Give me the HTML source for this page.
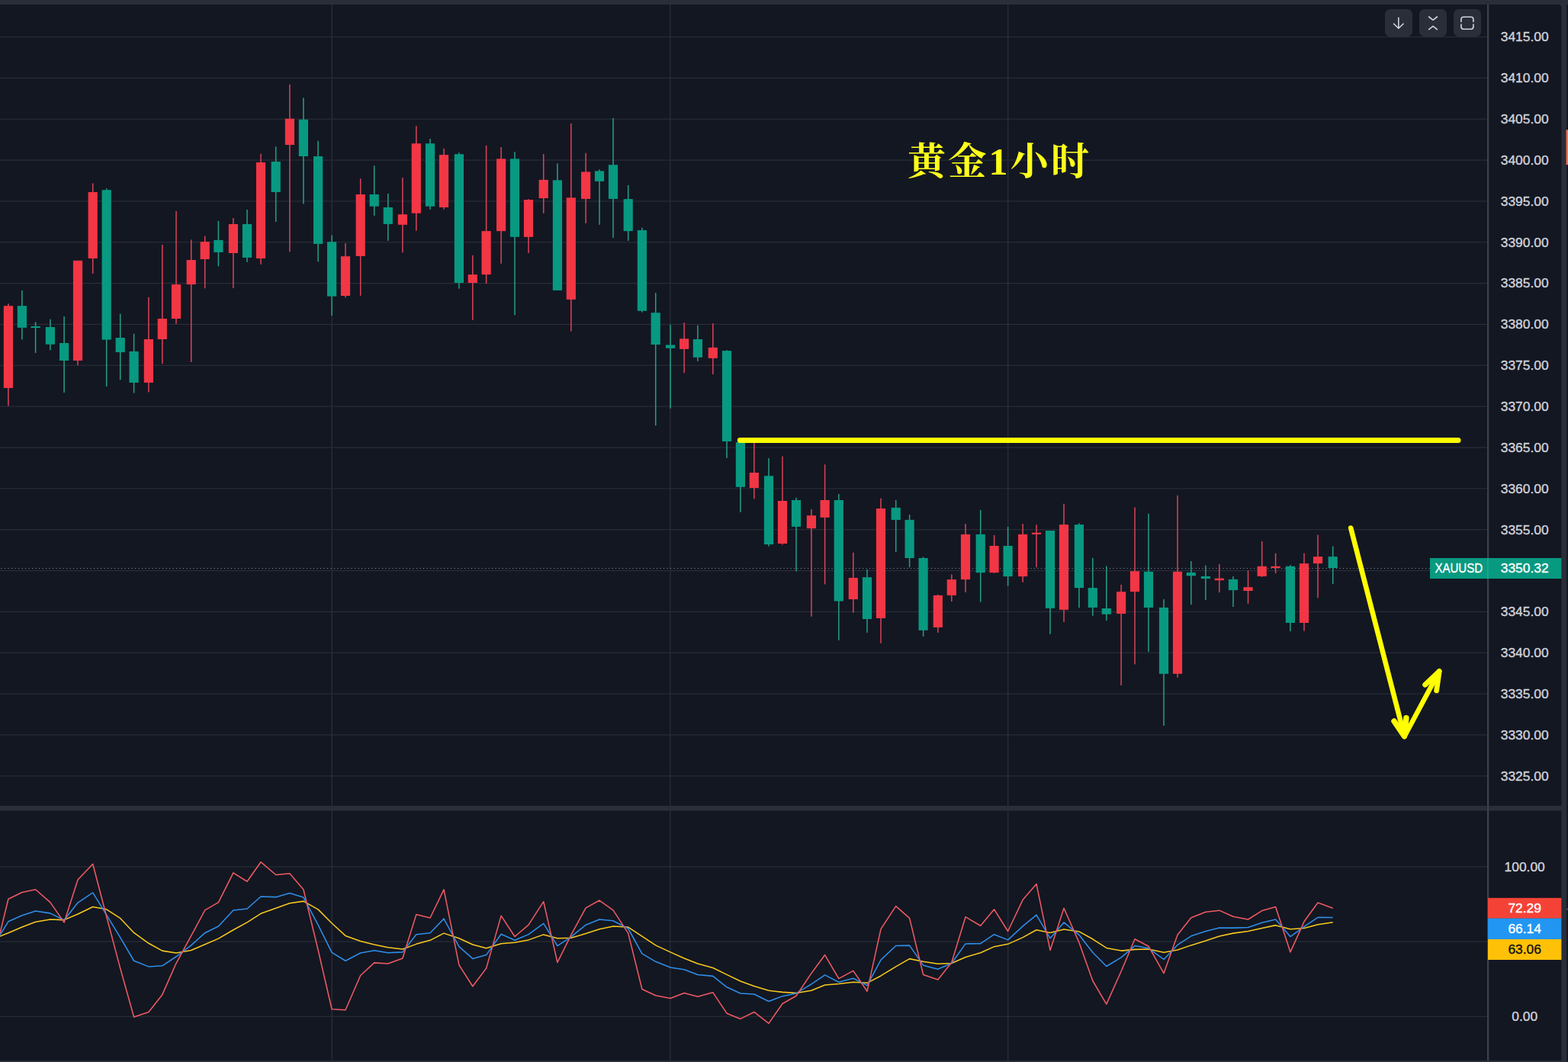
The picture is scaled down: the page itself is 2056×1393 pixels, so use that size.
<!DOCTYPE html>
<html><head><meta charset="utf-8"><title>XAUUSD 1h</title>
<style>
html,body{margin:0;padding:0;background:#131722;width:2056px;height:1393px;overflow:hidden;font-family:"Liberation Sans",sans-serif}
svg{display:block;position:absolute;left:0;top:0}
</style></head><body>
<svg width="2056" height="1393" viewBox="0 0 2056 1393" shape-rendering="geometricPrecision"><rect x="0" y="0" width="2056" height="1393" fill="#131722"/>
<g fill="#292d38"><rect x="0" y="47.9" width="1950" height="1.2"/><rect x="0" y="101.75" width="1950" height="1.2"/><rect x="0" y="155.6" width="1950" height="1.2"/><rect x="0" y="209.45" width="1950" height="1.2"/><rect x="0" y="263.3" width="1950" height="1.2"/><rect x="0" y="317.15" width="1950" height="1.2"/><rect x="0" y="371" width="1950" height="1.2"/><rect x="0" y="424.85" width="1950" height="1.2"/><rect x="0" y="478.7" width="1950" height="1.2"/><rect x="0" y="532.55" width="1950" height="1.2"/><rect x="0" y="586.4" width="1950" height="1.2"/><rect x="0" y="640.25" width="1950" height="1.2"/><rect x="0" y="694.1" width="1950" height="1.2"/><rect x="0" y="747.95" width="1950" height="1.2"/><rect x="0" y="801.8" width="1950" height="1.2"/><rect x="0" y="855.65" width="1950" height="1.2"/><rect x="0" y="909.5" width="1950" height="1.2"/><rect x="0" y="963.35" width="1950" height="1.2"/><rect x="0" y="1017.2" width="1950" height="1.2"/><rect x="0" y="1136.4" width="1950" height="1.2"/><rect x="0" y="1234.4" width="1950" height="1.2"/><rect x="0" y="1332.7" width="1950" height="1.2"/><rect x="434.5" y="6" width="1.4" height="1051"/><rect x="434.5" y="1063" width="1.4" height="328"/><rect x="878.1" y="6" width="1.4" height="1051"/><rect x="878.1" y="1063" width="1.4" height="328"/><rect x="1321" y="6" width="1.4" height="1051"/><rect x="1321" y="1063" width="1.4" height="328"/></g>
<line x1="1.5" y1="745.5" x2="1875" y2="745.5" stroke="#7f8c8f" stroke-width="1" stroke-dasharray="1.1 3.4"/>
<g fill="#f23645"><rect x="10.15" y="398.3" width="1.5" height="134.2" fill="#dc4258"/><rect x="4.8" y="401.2" width="12.2" height="107.7"/><rect x="101.25" y="341.8" width="1.5" height="137.5" fill="#dc4258"/><rect x="95.9" y="341.8" width="12.2" height="131.2"/><rect x="120.95" y="240.4" width="1.5" height="118.5" fill="#dc4258"/><rect x="115.6" y="252" width="12.2" height="87"/><rect x="194.15" y="389.8" width="1.5" height="124.6" fill="#dc4258"/><rect x="188.8" y="445" width="12.2" height="56.9"/><rect x="212.05" y="321" width="1.5" height="156.1" fill="#dc4258"/><rect x="206.7" y="418" width="12.2" height="27"/><rect x="230.25" y="276.8" width="1.5" height="148" fill="#dc4258"/><rect x="224.9" y="373.1" width="12.2" height="44.9"/><rect x="249.95" y="314.4" width="1.5" height="160.6" fill="#dc4258"/><rect x="244.6" y="341" width="12.2" height="32.1"/><rect x="267.95" y="309.6" width="1.5" height="68.6" fill="#dc4258"/><rect x="262.6" y="317" width="12.2" height="23"/><rect x="305.15" y="286" width="1.5" height="92" fill="#dc4258"/><rect x="299.8" y="294" width="12.2" height="38"/><rect x="341.25" y="201.7" width="1.5" height="145.1" fill="#dc4258"/><rect x="335.9" y="213" width="12.2" height="126"/><rect x="379.15" y="110.8" width="1.5" height="219.4" fill="#dc4258"/><rect x="373.8" y="155.7" width="12.2" height="34.3"/><rect x="452.25" y="319.1" width="1.5" height="71.2" fill="#dc4258"/><rect x="446.9" y="336.2" width="12.2" height="51.8"/><rect x="471.95" y="234.2" width="1.5" height="153.7" fill="#dc4258"/><rect x="466.6" y="255" width="12.2" height="81"/><rect x="527.15" y="233.1" width="1.5" height="98.1" fill="#dc4258"/><rect x="521.8" y="281.2" width="12.2" height="13.6"/><rect x="545.05" y="165.2" width="1.5" height="137.5" fill="#dc4258"/><rect x="539.7" y="188.2" width="12.2" height="91.5"/><rect x="581.25" y="194.7" width="1.5" height="80" fill="#dc4258"/><rect x="575.9" y="203.1" width="12.2" height="68.9"/><rect x="619.05" y="334.9" width="1.5" height="84.9" fill="#dc4258"/><rect x="613.7" y="360.1" width="12.2" height="10.9"/><rect x="636.85" y="190.8" width="1.5" height="181.3" fill="#dc4258"/><rect x="631.5" y="303.1" width="12.2" height="57"/><rect x="656.35" y="193" width="1.5" height="152.8" fill="#dc4258"/><rect x="651" y="208.3" width="12.2" height="94.8"/><rect x="692.25" y="261.1" width="1.5" height="70.9" fill="#dc4258"/><rect x="686.9" y="262" width="12.2" height="48.8"/><rect x="711.95" y="202" width="1.5" height="77.7" fill="#dc4258"/><rect x="706.6" y="235.9" width="12.2" height="24.1"/><rect x="748.05" y="161.9" width="1.5" height="272.6" fill="#dc4258"/><rect x="742.7" y="259.3" width="12.2" height="133.6"/><rect x="767.35" y="200.7" width="1.5" height="92.1" fill="#dc4258"/><rect x="762" y="225.4" width="12.2" height="35.5"/><rect x="896.35" y="423.1" width="1.5" height="66.1" fill="#dc4258"/><rect x="891" y="444.3" width="12.2" height="13.6"/><rect x="934.05" y="424.2" width="1.5" height="66.7" fill="#dc4258"/><rect x="928.7" y="455.9" width="12.2" height="14"/><rect x="988.05" y="578" width="1.5" height="76.4" fill="#dc4258"/><rect x="982.7" y="620" width="12.2" height="20"/><rect x="1025.25" y="598.6" width="1.5" height="115.9" fill="#dc4258"/><rect x="1019.9" y="657" width="12.2" height="56"/><rect x="1063.15" y="667.9" width="1.5" height="140.8" fill="#dc4258"/><rect x="1057.8" y="676.2" width="12.2" height="16.9"/><rect x="1080.85" y="609.3" width="1.5" height="157.1" fill="#dc4258"/><rect x="1075.5" y="656" width="12.2" height="22.8"/><rect x="1118.05" y="724.8" width="1.5" height="79.1" fill="#dc4258"/><rect x="1112.7" y="757.9" width="12.2" height="28.2"/><rect x="1154.25" y="653.7" width="1.5" height="190" fill="#dc4258"/><rect x="1148.9" y="667" width="12.2" height="143.9"/><rect x="1229.05" y="779.8" width="1.5" height="50.1" fill="#dc4258"/><rect x="1223.7" y="780.9" width="12.2" height="42"/><rect x="1247.05" y="753.5" width="1.5" height="35.5" fill="#dc4258"/><rect x="1241.7" y="760.1" width="12.2" height="20.8"/><rect x="1265.25" y="687.1" width="1.5" height="89.8" fill="#dc4258"/><rect x="1259.9" y="700.9" width="12.2" height="59.2"/><rect x="1302.85" y="702" width="1.5" height="49.7" fill="#dc4258"/><rect x="1297.5" y="716" width="12.2" height="35.1"/><rect x="1340.35" y="687.1" width="1.5" height="76.7" fill="#dc4258"/><rect x="1335" y="700.9" width="12.2" height="55.2"/><rect x="1358.25" y="688.2" width="1.5" height="55.9" fill="#dc4258"/><rect x="1352.9" y="698.7" width="12.2" height="2.2"/><rect x="1394.25" y="660.8" width="1.5" height="155" fill="#dc4258"/><rect x="1388.9" y="688.1" width="12.2" height="111.7"/><rect x="1469.35" y="766.9" width="1.5" height="132.1" fill="#dc4258"/><rect x="1464" y="776.1" width="12.2" height="28.9"/><rect x="1487.25" y="665.5" width="1.5" height="205.8" fill="#dc4258"/><rect x="1481.9" y="749.2" width="12.2" height="26.9"/><rect x="1543.25" y="649.8" width="1.5" height="238.9" fill="#dc4258"/><rect x="1537.9" y="749.8" width="12.2" height="134"/><rect x="1598.05" y="740" width="1.5" height="37.2" fill="#dc4258"/><rect x="1592.7" y="758.6" width="12.2" height="2.6"/><rect x="1635.75" y="748.3" width="1.5" height="43.6" fill="#dc4258"/><rect x="1630.4" y="770.2" width="12.2" height="4.8"/><rect x="1653.95" y="710" width="1.5" height="46.8" fill="#dc4258"/><rect x="1648.6" y="742.8" width="12.2" height="13.1"/><rect x="1671.85" y="725.7" width="1.5" height="26.3" fill="#dc4258"/><rect x="1666.5" y="742.8" width="12.2" height="2.2"/><rect x="1709.25" y="725.7" width="1.5" height="101.9" fill="#dc4258"/><rect x="1703.9" y="739.1" width="12.2" height="77.9"/><rect x="1727.25" y="701.6" width="1.5" height="82.6" fill="#dc4258"/><rect x="1721.9" y="730.1" width="12.2" height="9"/></g>
<g fill="#089981"><rect x="28.15" y="381" width="1.5" height="64.4" fill="#259e88"/><rect x="22.8" y="401.2" width="12.2" height="28.6"/><rect x="45.85" y="422.4" width="1.5" height="40.5" fill="#259e88"/><rect x="40.5" y="428" width="12.2" height="2"/><rect x="65.15" y="418.7" width="1.5" height="40.5" fill="#259e88"/><rect x="59.8" y="429" width="12.2" height="22.7"/><rect x="83.35" y="415" width="1.5" height="100" fill="#259e88"/><rect x="78" y="450" width="12.2" height="23"/><rect x="138.95" y="247.2" width="1.5" height="259.7" fill="#259e88"/><rect x="133.6" y="249.2" width="12.2" height="196.4"/><rect x="156.95" y="411.7" width="1.5" height="86.5" fill="#259e88"/><rect x="151.6" y="443" width="12.2" height="19"/><rect x="174.85" y="437.7" width="1.5" height="77.8" fill="#259e88"/><rect x="169.5" y="460.9" width="12.2" height="41"/><rect x="285.65" y="289.9" width="1.5" height="59.5" fill="#259e88"/><rect x="280.3" y="314.9" width="12.2" height="16"/><rect x="323.25" y="275" width="1.5" height="68.8" fill="#259e88"/><rect x="317.9" y="294" width="12.2" height="43.9"/><rect x="360.95" y="192.3" width="1.5" height="98.7" fill="#259e88"/><rect x="355.6" y="212" width="12.2" height="40"/><rect x="397.15" y="128.3" width="1.5" height="139.1" fill="#259e88"/><rect x="391.8" y="156.8" width="12.2" height="48.2"/><rect x="416.35" y="184.8" width="1.5" height="158.5" fill="#259e88"/><rect x="411" y="205" width="12.2" height="114.9"/><rect x="434.35" y="308.6" width="1.5" height="105.4" fill="#259e88"/><rect x="429" y="317.2" width="12.2" height="71.5"/><rect x="489.95" y="217.3" width="1.5" height="65.5" fill="#259e88"/><rect x="484.6" y="255" width="12.2" height="15.7"/><rect x="508.05" y="253.9" width="1.5" height="61.9" fill="#259e88"/><rect x="502.7" y="272" width="12.2" height="21.9"/><rect x="563.25" y="182" width="1.5" height="92.7" fill="#259e88"/><rect x="557.9" y="188.2" width="12.2" height="82.5"/><rect x="601.15" y="200.2" width="1.5" height="178.5" fill="#259e88"/><rect x="595.8" y="202.2" width="12.2" height="168.8"/><rect x="674.25" y="199.1" width="1.5" height="214.2" fill="#259e88"/><rect x="668.9" y="208.3" width="12.2" height="102.5"/><rect x="730.15" y="214.4" width="1.5" height="166.5" fill="#259e88"/><rect x="724.8" y="236.3" width="12.2" height="144.6"/><rect x="785.25" y="222.3" width="1.5" height="72.5" fill="#259e88"/><rect x="779.9" y="224.3" width="12.2" height="13.6"/><rect x="803.25" y="154.9" width="1.5" height="157" fill="#259e88"/><rect x="797.9" y="216.2" width="12.2" height="44.7"/><rect x="822.95" y="242.9" width="1.5" height="72.9" fill="#259e88"/><rect x="817.6" y="261.1" width="12.2" height="42"/><rect x="841.15" y="298.7" width="1.5" height="110.9" fill="#259e88"/><rect x="835.8" y="302" width="12.2" height="105.8"/><rect x="858.95" y="384.1" width="1.5" height="174.1" fill="#259e88"/><rect x="853.6" y="410.2" width="12.2" height="41.8"/><rect x="878.25" y="425.7" width="1.5" height="110.1" fill="#259e88"/><rect x="872.9" y="452.4" width="12.2" height="4.4"/><rect x="914.15" y="426.8" width="1.5" height="47.1" fill="#259e88"/><rect x="908.8" y="445" width="12.2" height="23.8"/><rect x="952.25" y="459.2" width="1.5" height="141.6" fill="#259e88"/><rect x="946.9" y="460.1" width="12.2" height="118.9"/><rect x="970.15" y="577" width="1.5" height="94.8" fill="#259e88"/><rect x="964.8" y="580.1" width="12.2" height="58.7"/><rect x="1007.25" y="601" width="1.5" height="115.7" fill="#259e88"/><rect x="1001.9" y="624.2" width="12.2" height="89.9"/><rect x="1043.25" y="652.8" width="1.5" height="96.7" fill="#259e88"/><rect x="1037.9" y="656" width="12.2" height="34.9"/><rect x="1099.05" y="648" width="1.5" height="191.8" fill="#259e88"/><rect x="1093.7" y="656" width="12.2" height="132.5"/><rect x="1136.25" y="746.9" width="1.5" height="83" fill="#259e88"/><rect x="1130.9" y="757.2" width="12.2" height="54.8"/><rect x="1173.95" y="656" width="1.5" height="67.9" fill="#259e88"/><rect x="1168.6" y="665.9" width="12.2" height="16"/><rect x="1191.85" y="675.1" width="1.5" height="69" fill="#259e88"/><rect x="1186.5" y="681.9" width="12.2" height="50.1"/><rect x="1209.85" y="730.5" width="1.5" height="104.4" fill="#259e88"/><rect x="1204.5" y="732" width="12.2" height="94.8"/><rect x="1284.95" y="669" width="1.5" height="120.6" fill="#259e88"/><rect x="1279.6" y="700.9" width="12.2" height="50.2"/><rect x="1320.85" y="690.9" width="1.5" height="77.7" fill="#259e88"/><rect x="1315.5" y="716" width="12.2" height="40.1"/><rect x="1376.25" y="696" width="1.5" height="135.8" fill="#259e88"/><rect x="1370.9" y="696" width="12.2" height="101.8"/><rect x="1414.15" y="686.3" width="1.5" height="111" fill="#259e88"/><rect x="1408.8" y="688.1" width="12.2" height="83"/><rect x="1432.05" y="731.9" width="1.5" height="75.9" fill="#259e88"/><rect x="1426.7" y="771.1" width="12.2" height="25.8"/><rect x="1450.05" y="742.6" width="1.5" height="71.4" fill="#259e88"/><rect x="1444.7" y="798" width="12.2" height="7.7"/><rect x="1505.25" y="673.8" width="1.5" height="181.1" fill="#259e88"/><rect x="1499.9" y="749.8" width="12.2" height="47.1"/><rect x="1525.25" y="785.9" width="1.5" height="166" fill="#259e88"/><rect x="1519.9" y="796.9" width="12.2" height="86.9"/><rect x="1561.05" y="736" width="1.5" height="57.2" fill="#259e88"/><rect x="1555.7" y="750.9" width="12.2" height="4.4"/><rect x="1580.15" y="741.7" width="1.5" height="45.3" fill="#259e88"/><rect x="1574.8" y="755.9" width="12.2" height="3.1"/><rect x="1616.25" y="755.9" width="1.5" height="40.1" fill="#259e88"/><rect x="1610.9" y="759.9" width="12.2" height="14.2"/><rect x="1691.15" y="741.1" width="1.5" height="86.9" fill="#259e88"/><rect x="1685.8" y="742.8" width="12.2" height="74.2"/><rect x="1746.95" y="716.5" width="1.5" height="49.7" fill="#259e88"/><rect x="1741.6" y="730.1" width="12.2" height="14.9"/></g>
<g stroke="#ffff00" fill="none" stroke-linecap="round" stroke-linejoin="round"><line x1="970.3" y1="577.4" x2="1912" y2="577.4" stroke-width="7"/><path d="M1771.2 692.5 L1841.5 965.5" stroke-width="6.6"/><path d="M1828 946 L1841.4 965.8 L1843.9 941.8" stroke-width="7.4"/><path d="M1841.5 966 L1887.2 880.6" stroke-width="6.4"/><path d="M1868.6 898.2 L1887.2 880.4 L1883.6 905.8" stroke-width="6.8"/></g>
<polyline points="0,1228.07 10.9,1223.69 28.9,1216.03 46.6,1209.25 65.9,1205.97 84.1,1206.62 102,1198.96 121.7,1189.55 139.7,1192.83 157.7,1204.43 175.6,1223.47 194.9,1237.26 212.8,1247.11 231,1249.96 250.7,1246.46 268.7,1238.8 286.4,1231.13 305.9,1219.75 324,1209.9 342,1198.3 361.7,1191.3 379.9,1184.74 397.9,1182.11 417.1,1192.83 435.1,1211 453,1227.41 472.7,1234.42 490.7,1239.01 508.8,1242.73 527.9,1244.92 545.8,1238.36 564,1233.32 582,1224.13 601.9,1230.7 619.8,1239.01 637.6,1243.83 657.1,1237.7 675,1236.17 693,1232.89 712.7,1225.88 730.9,1230.7 748.8,1230.26 768.1,1224.57 786,1218.66 804,1214.94 823.7,1216.03 841.9,1228.07 859.7,1239.89 879,1248.86 897.1,1256.96 914.9,1263.96 934.8,1269.44 953,1278.41 970.9,1286.95 988.8,1293.51 1008,1299.2 1026,1301.39 1044,1302.49 1063.9,1299.2 1081.6,1291.98 1099.8,1290.45 1118.8,1288.26 1137,1289.35 1155,1279.94 1174.7,1267.9 1192.6,1257.62 1210.6,1261.34 1229.8,1264.18 1247.8,1263.53 1266,1255.43 1285.7,1249.74 1303.6,1241.64 1321.6,1238.36 1341.1,1229.6 1359,1219.75 1377,1223.47 1395,1219.1 1414.9,1221.94 1432.8,1231.79 1450.8,1243.39 1470.1,1247.11 1488,1245.36 1506,1244.92 1526,1249.3 1544,1246.02 1561.8,1239.89 1580.9,1233.98 1598.8,1228.07 1617,1224.13 1636.5,1221.5 1654.7,1217.57 1672.6,1213.63 1691.9,1218.66 1710,1217.57 1728,1212.75 1747.7,1209.69" fill="none" stroke="#f7c81e" stroke-width="1.55" stroke-linejoin="round"/>
<polyline points="0,1226.32 10.9,1208.81 28.9,1200.71 46.6,1195.02 65.9,1197.87 84.1,1207.06 102,1184.08 121.7,1170.95 139.7,1200.06 157.7,1229.6 175.6,1260.24 194.9,1267.9 212.8,1266.81 231,1254.77 250.7,1239.89 268.7,1223.69 286.4,1214.94 305.9,1193.93 324,1191.96 342,1175.98 361.7,1176.64 379.9,1171.6 397.9,1177.07 417.1,1213.19 435.1,1249.3 453,1260.24 472.7,1249.96 490.7,1246.67 508.8,1249.74 527.9,1248.86 545.8,1225.66 564,1223.69 582,1205.09 601.9,1241.64 619.8,1257.4 637.6,1252.58 657.1,1225.23 675,1233.32 693,1225.66 712.7,1211.44 730.9,1240.55 748.8,1228.95 768.1,1213.19 786,1205.97 804,1207.72 823.7,1218 841.9,1250.83 859.7,1261.34 879,1269 897.1,1271.84 914.9,1278.41 934.8,1280.38 953,1294.82 970.9,1302.92 988.8,1304.02 1008,1313.43 1026,1306.64 1044,1302.92 1063.9,1290.89 1081.6,1278.85 1099.8,1288.26 1118.8,1283.22 1137,1292.64 1155,1259.15 1174.7,1240.55 1192.6,1240.11 1210.6,1266.15 1229.8,1271.19 1247.8,1263.53 1266,1237.92 1285.7,1237.7 1303.6,1225.66 1321.6,1232.89 1341.1,1214.94 1359,1200.06 1377,1230.7 1395,1209.9 1414.9,1226.32 1432.8,1249.3 1450.8,1267.47 1470.1,1255.87 1488,1240.55 1506,1243.83 1526,1258.49 1544,1239.45 1561.8,1227.85 1580.9,1221.5 1598.8,1216.91 1617,1217.13 1636.5,1216.47 1654.7,1210.34 1672.6,1205.97 1691.9,1228.51 1710,1215.38 1728,1203.34 1747.7,1203.56" fill="none" stroke="#2e8ee8" stroke-width="1.55" stroke-linejoin="round"/>
<polyline points="0,1224.13 10.9,1179.26 28.9,1170.51 46.6,1166.79 65.9,1183.64 84.1,1209.9 102,1154.09 121.7,1133.3 139.7,1202.24 157.7,1270.09 175.6,1334 194.9,1327.44 212.8,1304.67 231,1263.53 250.7,1227.41 268.7,1193.93 286.4,1183.64 305.9,1144.9 324,1156.28 342,1130.68 361.7,1147.53 379.9,1145.78 397.9,1166.79 417.1,1246.02 435.1,1323.72 453,1324.81 472.7,1279.5 490.7,1262.87 508.8,1263.96 527.9,1256.96 545.8,1199.62 564,1204 582,1166.79 601.9,1265.72 619.8,1293.73 637.6,1270.09 657.1,1201.15 675,1228.51 693,1213.19 712.7,1182.55 730.9,1262.43 748.8,1226.32 768.1,1190.86 786,1181.01 804,1193.93 823.7,1224.13 841.9,1297.45 859.7,1305.77 879,1309.49 897.1,1302.49 914.9,1307.3 934.8,1301.83 953,1329.19 970.9,1336.41 988.8,1327.44 1008,1342.32 1026,1316.49 1044,1306.21 1063.9,1276.66 1081.6,1252.58 1099.8,1283.66 1118.8,1273.38 1137,1300.3 1155,1218.66 1174.7,1188.67 1192.6,1204.43 1210.6,1278.41 1229.8,1284.98 1247.8,1262.43 1266,1202.68 1285.7,1214.28 1303.6,1192.83 1321.6,1221.5 1341.1,1180.36 1359,1159.57 1377,1246.46 1395,1191.3 1414.9,1236.17 1432.8,1286.51 1450.8,1317.15 1470.1,1274.03 1488,1231.79 1506,1241.2 1526,1276.66 1544,1226.32 1561.8,1203.78 1580.9,1196.34 1598.8,1194.15 1617,1202.24 1636.5,1205.97 1654.7,1194.58 1672.6,1189.55 1691.9,1248.86 1710,1208.81 1728,1184.08 1747.7,1191.3" fill="none" stroke="#ee5a62" stroke-width="1.55" stroke-linejoin="round"/>
<rect x="0" y="0" width="2056" height="6" fill="#2a2e39"/>
<rect x="0" y="1057" width="2048" height="6.4" fill="#2a2e39"/>
<rect x="0" y="1391" width="2056" height="2" fill="#2a2e39"/>
<path d="M2047.4 0 H2054 V1393 H2047.4 Z" fill="#2a2e39"/>
<path d="M2043 6 H2048 V11 A5 5 0 0 0 2043 6 Z" fill="#2a2e39"/>
<rect x="2054.4" y="8" width="1.6" height="1385" fill="#151924"/>
<rect x="2053.6" y="170.2" width="2.4" height="46" fill="#f2724f"/>
<rect x="2053.6" y="1191.6" width="2.4" height="2" fill="#4a4e59"/>
<rect x="1950" y="6" width="2.2" height="1385" fill="#3d414c"/>
<g font-family="Liberation Sans, sans-serif" font-size="17.4" fill="#d1d4dc" stroke="#d1d4dc" stroke-width=".35" text-anchor="middle"><text x="1999.2" y="54.3">3415.00</text><text x="1999.2" y="108.15">3410.00</text><text x="1999.2" y="162">3405.00</text><text x="1999.2" y="215.85">3400.00</text><text x="1999.2" y="269.7">3395.00</text><text x="1999.2" y="323.55">3390.00</text><text x="1999.2" y="377.4">3385.00</text><text x="1999.2" y="431.25">3380.00</text><text x="1999.2" y="485.1">3375.00</text><text x="1999.2" y="538.95">3370.00</text><text x="1999.2" y="592.8">3365.00</text><text x="1999.2" y="646.65">3360.00</text><text x="1999.2" y="700.5">3355.00</text><text x="1999.2" y="808.2">3345.00</text><text x="1999.2" y="862.05">3340.00</text><text x="1999.2" y="915.9">3335.00</text><text x="1999.2" y="969.75">3330.00</text><text x="1999.2" y="1023.6">3325.00</text><text x="1999.2" y="1142.8">100.00</text><text x="1999.2" y="1339.2">0.00</text></g>
<rect x="1875" y="732" width="172.4" height="27" fill="#089981"/>
<rect x="1950" y="732" width="1.6" height="27" fill="#2bb39c" opacity=".55"/>
<g font-family="Liberation Sans, sans-serif" font-size="17.4" fill="#ffffff" stroke="#ffffff" stroke-width=".35" text-anchor="middle"><text x="1912.8" y="751" textLength="62.8" lengthAdjust="spacingAndGlyphs">XAUUSD</text><text x="1999.2" y="751">3350.32</text></g>
<rect x="1951" y="1177.8" width="96.4" height="27" fill="#f44336"/>
<rect x="1951" y="1204.6" width="96.4" height="27.4" fill="#2196f3"/>
<rect x="1951" y="1232" width="96.4" height="27" fill="#ffc107"/>
<g font-family="Liberation Sans, sans-serif" font-size="17.4" text-anchor="middle"><text x="1999.2" y="1197" fill="#fff" stroke="#fff" stroke-width=".35">72.29</text><text x="1999.2" y="1224.2" fill="#fff" stroke="#fff" stroke-width=".35">66.14</text><text x="1999.2" y="1251.2" fill="#101010" stroke="#101010" stroke-width=".35">63.06</text></g>
<rect x="1816" y="12" width="36" height="36" rx="6.5" fill="#2a2e39"/>
<rect x="1861" y="12" width="36" height="36" rx="6.5" fill="#2a2e39"/>
<rect x="1906" y="12" width="36" height="36" rx="6.5" fill="#2a2e39"/>
<g stroke="#d1d4dc" stroke-width="1.6" fill="none" stroke-linecap="round" stroke-linejoin="round"><path d="M1833.8 23.4 V37 M1827.6 31.2 L1833.8 37.2 L1840 31.2"/><path d="M1873.6 22 L1879 26.3 L1884.4 22 M1873.6 38.6 L1879 34.3 L1884.4 38.6"/><path d="M1915.9 28.4 V25.4 A3.2 3.2 0 0 1 1919.1 22.2 H1928.7 A3.2 3.2 0 0 1 1931.9 25.4 V28.4 M1915.9 32 V35 A3.2 3.2 0 0 0 1919.1 38.2 H1928.7 A3.2 3.2 0 0 0 1931.9 35 V32"/></g>
<g fill="#ffff1a"><text x="1190" y="229" font-family="'Liberation Serif', 'Noto Serif CJK SC', serif" font-size="50" font-weight="bold" textLength="238" lengthAdjust="spacing">黄金1小时</text></g></svg>
</body></html>
